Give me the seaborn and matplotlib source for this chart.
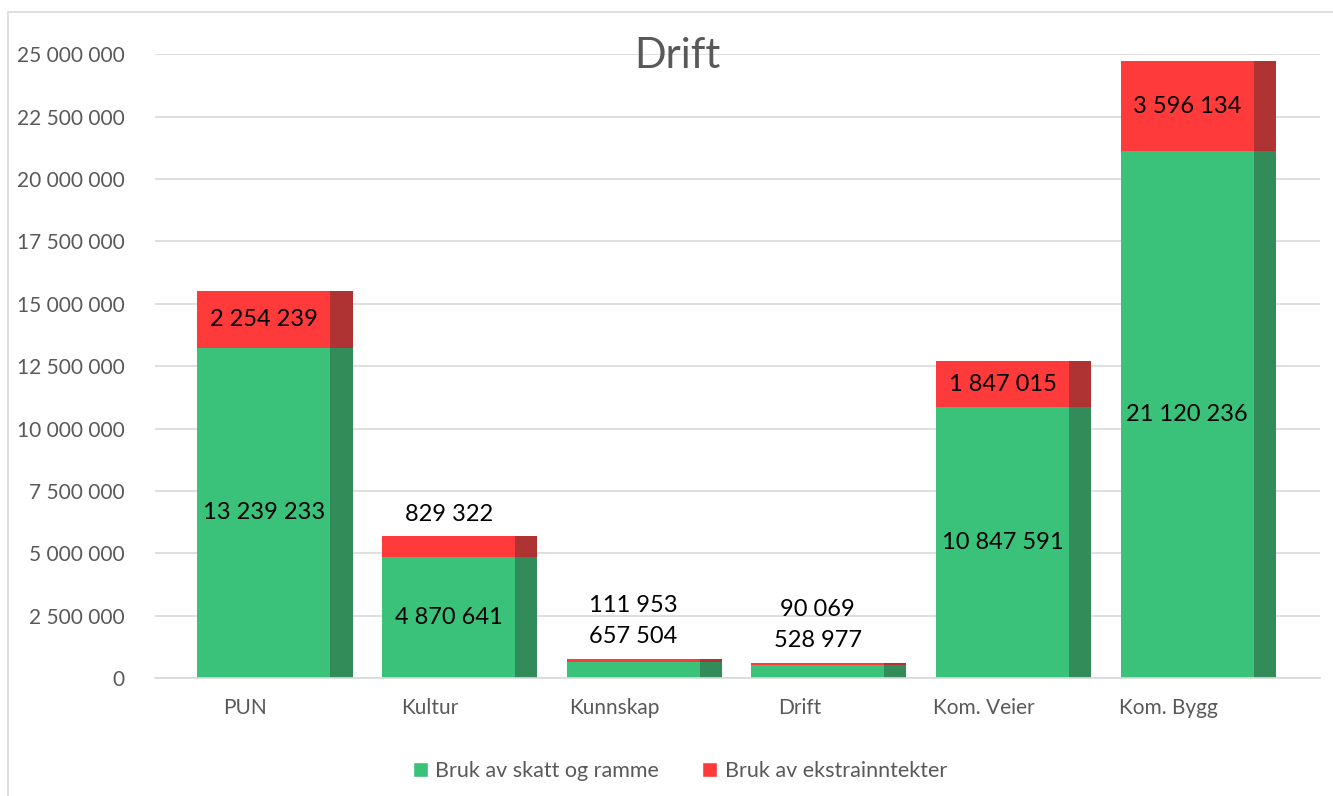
import numpy as np
import pandas as pd
import matplotlib.pyplot as plt
import seaborn as sns
from matplotlib.patches import Rectangle, Patch
from matplotlib.ticker import FuncFormatter

# Data
categories = ["PUN", "Kultur", "Kunnskap", "Drift", "Kom. Veier", "Kom. Bygg"]
skatt_ramme = [13239233, 4870641, 657504, 528977, 10847591, 21120236]
ekstrainntekter = [2254239, 829322, 111953, 90069, 1847015, 3596134]

GREEN = "#3BC27A"
GREEN_DARK = "#318C59"
RED = "#FF3A3A"
RED_DARK = "#B03333"
GREY = "#595959"

df = pd.DataFrame({"kat": categories, "skatt": skatt_ramme, "ekstra": ekstrainntekter})
df["total"] = df["skatt"] + df["ekstra"]

sns.set_style("white")
plt.rcParams["font.family"] = ["Lato", "DejaVu Sans"]

fig = plt.figure(figsize=(13.33, 7.96), dpi=100)
ax = fig.add_axes([0.1163, 0.148, 0.874, 0.784])

# Gridlines under bars
ax.set_axisbelow(True)
ax.yaxis.grid(True, color="#D9D9D9", lw=1.2)

bw = 0.84
sns.barplot(data=df, x="kat", y="total", color=RED, width=bw, saturation=1,
            linewidth=0, edgecolor="none", ax=ax)
sns.barplot(data=df, x="kat", y="skatt", color=GREEN, width=bw, saturation=1,
            linewidth=0, edgecolor="none", ax=ax)

# darker side strip on the right of every bar
strip = 0.12
n = len(categories)
for i, p in enumerate(list(ax.patches)):
    dark = RED_DARK if i < n else GREEN_DARK
    x0 = p.get_x() + p.get_width() - strip
    ax.add_patch(Rectangle((x0, p.get_y()), strip, p.get_height(), linewidth=0,
                           facecolor=dark, edgecolor="none", zorder=p.get_zorder() + 0.1))

fmt = lambda v: f"{int(v):,}".replace(",", " ")

# data labels
for i, row in df.iterrows():
    xc = i - 0.06
    g, r, t = row["skatt"], row["ekstra"], row["total"]
    if g > 3e6:
        gy = g / 2
        ry = g + r / 2 if r > 1.5e6 else t + 0.87e6
    else:
        gy = t + 0.9e6
        ry = t + 2.15e6
    ax.text(xc, gy, fmt(g), ha="center", va="center", fontsize=17, color="black", zorder=5)
    ax.text(xc, ry, fmt(r), ha="center", va="center", fontsize=17, color="black", zorder=5)

ax.set_ylim(0, 25e6)
ax.set_yticks(np.arange(0, 25e6 + 1, 2.5e6))
ax.yaxis.set_major_formatter(FuncFormatter(lambda v, _: fmt(v)))
ax.set_xticks(np.arange(n) - 0.16, categories)
ax.set_xlim(-0.65, 5.66)
ax.tick_params(axis="both", length=0, labelsize=15, colors=GREY)
ax.tick_params(axis="x", pad=14)
ax.tick_params(axis="y", pad=22)
ax.set_xlabel("")
ax.set_ylabel("")
for s in ["top", "right", "left"]:
    ax.spines[s].set_visible(False)
ax.spines["bottom"].set_color("#D9D9D9")
ax.spines["bottom"].set_linewidth(1.2)

fig.text(0.508, 0.93, "Drift", ha="center", va="center", fontsize=30, color=GREY)

handles = [Patch(facecolor=GREEN, label="Bruk av skatt og ramme"),
           Patch(facecolor=RED, label="Bruk av ekstrainntekter")]
fig.legend(handles=handles, loc="center", bbox_to_anchor=(0.51, 0.031), ncol=2, frameon=False,
           fontsize=15.5, labelcolor=GREY, handlelength=0.7, handleheight=0.7,
           handletextpad=0.35, columnspacing=2.0)

# outer chart border
fig.patches.append(Rectangle((0.006, -0.02), 1.1, 1.005, transform=fig.transFigure,
                             fill=False, edgecolor="#D9D9D9", lw=1.2))

fig.savefig("out.png", dpi=100)
